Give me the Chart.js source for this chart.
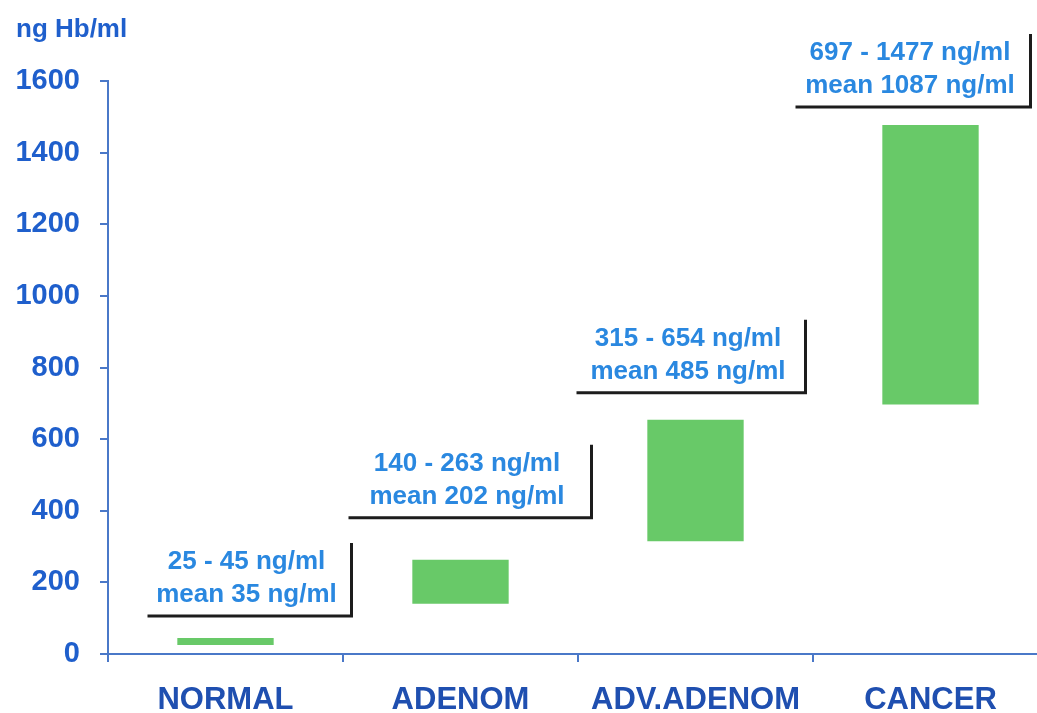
<!DOCTYPE html>
<html>
<head>
<meta charset="utf-8">
<script src="https://cdn.jsdelivr.net/npm/chart.js@4/dist/chart.umd.min.js"></script>
<style>
html,body{margin:0;padding:0;background:#fff;overflow:hidden;}
#wrap{width:1048px;height:713px;position:relative;}
</style>
</head>
<body>
<div id="wrap"><canvas id="c"></canvas></div>
<script>
const categories = ['NORMAL', 'ADENOM', 'ADV.ADENOM', 'CANCER'];
const lowValues  = [25, 140, 315, 697];
const highValues = [45, 263, 654, 1477];
const meanValues = [35, 202, 485, 1087];
const yTicks = [0, 200, 400, 600, 800, 1000, 1200, 1400, 1600];
const yAxisTitle = 'ng Hb/ml';
const unit = 'ng/ml';

const AXIS = '#4a78c8';
const FONT = '"Liberation Sans", Arial, sans-serif';

const boxPlugin = {
  id: 'rangeBoxes',
  afterDatasetsDraw(chart, args, opts) {
    const ctx = chart.ctx;
    const xs = chart.scales.x, ys = chart.scales.y;
    ctx.save();
    ctx.fillStyle = '#1f5fcc';
    ctx.font = 'bold 26px ' + FONT;
    ctx.textAlign = 'left';
    ctx.textBaseline = 'middle';
    ctx.fillText(yAxisTitle, 16, 30);
    categories.forEach((c, i) => {
      const b = opts.boxes[i];
      const cx = xs.getPixelForValue(i);
      const top = ys.getPixelForValue(highValues[i]);
      const bottom = top - b.gap;
      const left = cx + b.dxL, right = cx + b.dxR;
      ctx.strokeStyle = '#1c1c1c';
      ctx.lineWidth = 3;
      ctx.beginPath();
      ctx.moveTo(left, bottom);
      ctx.lineTo(right, bottom);
      ctx.lineTo(right, bottom - 73);
      ctx.stroke();
      const tx = (left + right) / 2 - 3;
      ctx.fillStyle = '#2a88e0';
      ctx.font = 'bold 26px ' + FONT;
      ctx.textAlign = 'center';
      ctx.textBaseline = 'middle';
      ctx.fillText(lowValues[i] + ' - ' + highValues[i] + ' ' + unit, tx, bottom - 54);
      ctx.fillText('mean ' + meanValues[i] + ' ' + unit, tx, bottom - 21);
    });
    ctx.restore();
  }
};

new Chart(document.getElementById('c'), {
  type: 'bar',
  data: {
    labels: categories,
    datasets: [{
      data: categories.map((c, i) => [lowValues[i], highValues[i]]),
      backgroundColor: '#68c968',
      borderWidth: 0,
      categoryPercentage: 1,
      barPercentage: 0.41
    }]
  },
  options: {
    responsive: true,
    maintainAspectRatio: false,
    animation: false,
    layout: { padding: { top: 81, left: 0, right: 0, bottom: 0 } },
    plugins: {
      legend: { display: false },
      tooltip: { enabled: false },
      rangeBoxes: {
        boxes: [
          { dxL: -78, dxR: 126, gap: 22 },
          { dxL: -112, dxR: 131, gap: 42 },
          { dxL: -119, dxR: 110, gap: 27 },
          { dxL: -135, dxR: 100, gap: 18 }
        ]
      }
    },
    scales: {
      x: {
        offset: true,
        grid: { offset: true, drawOnChartArea: false, drawTicks: true, tickLength: 8, color: AXIS, lineWidth: 2 },
        border: { display: true, color: AXIS, width: 2 },
        ticks: { color: '#1f4fb0', font: { family: FONT, size: 31, weight: 'bold' }, padding: 20, maxRotation: 0, autoSkip: false },
        afterFit(s) { s.height = 59; }
      },
      y: {
        min: 0, max: 1600,
        afterBuildTicks(s) { s.ticks = yTicks.map(v => ({ value: v })); },
        grid: { drawOnChartArea: false, drawTicks: true, tickLength: 8, color: AXIS, lineWidth: 2 },
        border: { display: true, color: AXIS, width: 2 },
        ticks: { color: '#1f5fcc', font: { family: FONT, size: 29, weight: 'bold' }, padding: 20, callback: v => String(v) },
        afterFit(s) { s.width = 108; }
      }
    }
  },
  plugins: [boxPlugin]
});
</script>
</body>
</html>
